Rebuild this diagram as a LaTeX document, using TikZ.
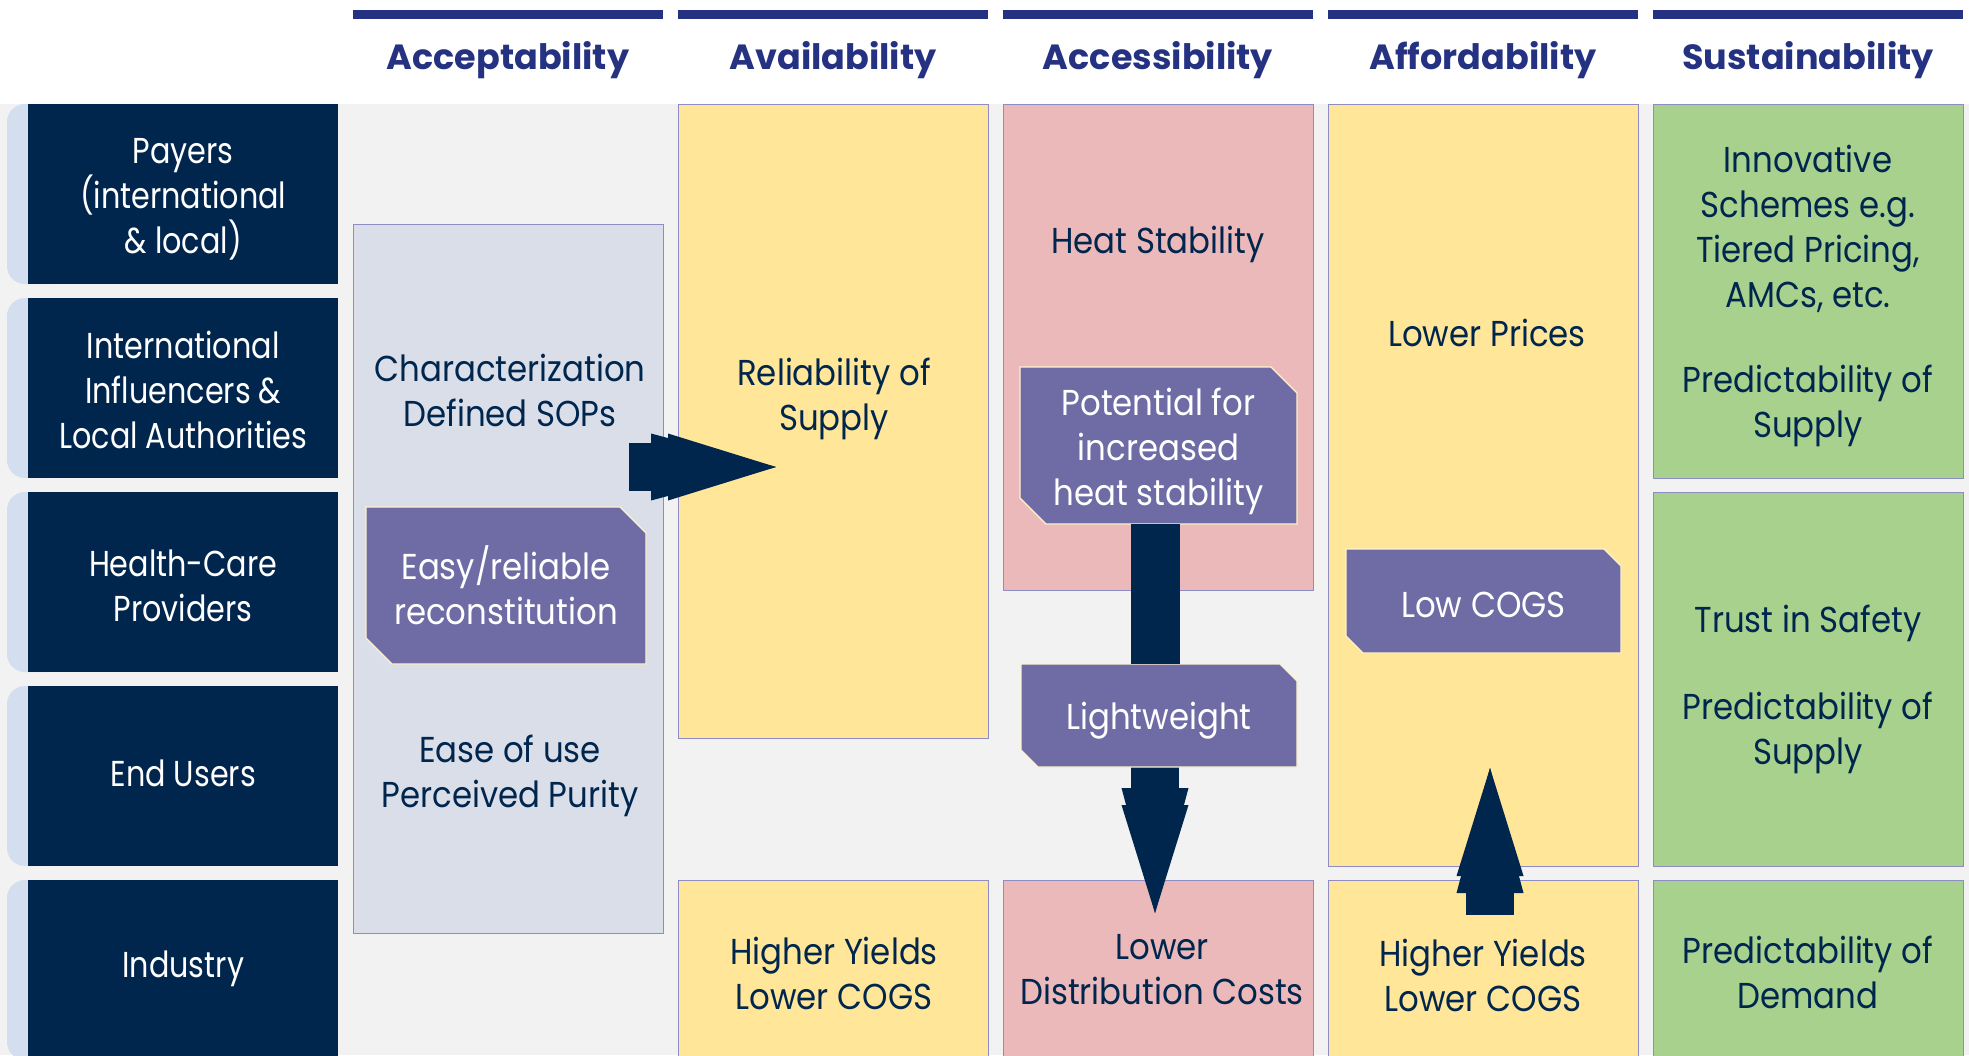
\documentclass[tikz,border=0pt]{standalone}
\usepackage{fontspec}
\setmainfont{Poppins}
\newfontfamily\bodyfont[FakeStretch=0.9]{Poppins}
\newfontfamily\rowfont[FakeStretch=0.84]{Poppins}
\usetikzlibrary{calc}
\definecolor{navy}{HTML}{00264E}
\definecolor{hdr}{HTML}{253282}
\definecolor{bggrey}{HTML}{F2F2F2}
\definecolor{tabc}{HTML}{D3DEEF}
\definecolor{lav}{HTML}{D9DEE9}
\definecolor{edge}{HTML}{8E8CC5}
\definecolor{yel}{HTML}{FFE699}
\definecolor{pnk}{HTML}{ECB9BA}
\definecolor{grn}{HTML}{A9D18E}
\definecolor{purp}{HTML}{6E6BA5}
\definecolor{cream}{HTML}{FFF2CC}
\newcommand\txtfont{\bodyfont\fontsize{36}{45}\selectfont}
\newcommand\rowtxtfont{\rowfont\fontsize{36}{45}\selectfont}
\newcommand\hdrfont{\fontsize{35}{45}\selectfont\bfseries}
\newcommand\cellbox[6]{\node[cell, fill=#2, anchor=north west, minimum width={#5-#3}, minimum height={#6-#4}] (#1) at (#3,#4) {};}
% name, x1, y1, x2, y2, cut, text offset, text
\newcommand\cutbox[8]{%
  \filldraw[fill=purp, draw=cream, line width=1.3pt] (#2,#3) -- ({#4-#6},#3) -- (#4,{#3+#6}) -- (#4,#5) -- ({#2+#6},#5) -- (#2,{#5-#6}) -- cycle;
  \node[inner sep=0pt, minimum width={#4-#2}, minimum height={#5-#3}] (#1) at ({(#2+#4)/2},{(#3+#5)/2}) {};
  \node[wbody] (#1t) at ($(#1.center)+(0,#7)$) {#8};}
\newcommand\bigarrow[3]{%
  \begin{scope}[shift={#1}, rotate=#2]
    \fill[navy] (-#3,-24) rectangle (0.5,24);
    \fill[navy] (0,-33.5) -- (0,33.5) -- (125,0) -- cycle;
    \fill[navy] (17,-33.5) -- (17,33.5) -- (125,0) -- cycle;
  \end{scope}}
\begin{document}
\begin{tikzpicture}[x=1pt,y=-1pt,
  cell/.style={draw=edge, line width=1.3pt, inner sep=0pt},
  body/.style={text=navy, align=center, font=\txtfont, inner sep=0pt},
  wbody/.style={text=white, align=center, font=\txtfont, inner sep=0pt},
  hdrtext/.style={text=hdr, font=\hdrfont, inner sep=0pt, anchor=base},
  rowbox/.style={fill=navy, inner sep=0pt, anchor=north west, minimum width=310, minimum height=180},
  rowtext/.style={text=white, align=center, font=\rowtxtfont, inner sep=0pt}]
\useasboundingbox (0,0) rectangle (1969,1055);
\clip (0,0) rectangle (1969,1055);
\fill[white] (0,0) rectangle (1969,104);
\fill[bggrey] (0,104) rectangle (1969,1055);
% header bars and titles
\foreach \x/\t [count=\i] in {353/Acceptability,678/Availability,1003/Accessibility,1328/Affordability,1653/Sustainability}{
  \fill[hdr] (\x,10) rectangle ({\x+310},19);
  \node[hdrtext] (h\i) at ({\x+155},69) {\t};
}
% row tabs and row headers
\foreach \y in {104,298,492,686,880}{
  \fill[tabc, rounded corners=18] (7,\y) rectangle (70,{\y+180});
}
\node[rowbox] (payers) at (28,104) {};
\node[rowbox] (influencers) at (28,298) {};
\node[rowbox] (providers) at (28,492) {};
\node[rowbox] (endusers) at (28,686) {};
\node[rowbox] (industry) at (28,880) {};
\node[rowtext] (payerst) at ($(payers.center)+(0,5)$) {Payers\\(international\\\& local)};
\node[rowtext] (influencerst) at ($(influencers.center)+(0,2)$) {International\\Influencers \&\\Local Authorities};
\node[rowtext] (providerst) at ($(providers.center)+(0,4)$) {Health-Care\\Providers};
\node[rowtext] (enduserst) at ($(endusers.center)+(0,-3)$) {End Users};
\node[rowtext] (industryt) at ($(industry.center)+(0,-1)$) {Industry};
% column cells
\cellbox{acc}{lav}{353}{224}{663}{933}
\cellbox{av1}{yel}{678}{104}{988}{738}
\cellbox{av2}{yel}{678}{880}{988}{1062}
\cellbox{ac1}{pnk}{1003}{104}{1313}{590}
\cellbox{ac2}{pnk}{1003}{880}{1313}{1062}
\cellbox{af1}{yel}{1328}{104}{1638}{866}
\cellbox{af2}{yel}{1328}{880}{1638}{1062}
\cellbox{su1}{grn}{1653}{104}{1963}{478}
\cellbox{su2}{grn}{1653}{492}{1963}{866}
\cellbox{su3}{grn}{1653}{880}{1963}{1062}
% texts
\node[body] (t1) at (510,390) {Characterization\\Defined SOPs};
\node[body] (t2) at (510,776) {Ease of use\\Perceived Purity};
\node[body] (t3) at (834,399) {Reliability of\\Supply};
\node[body] (t4) at (834,973) {Higher Yields\\Lower COGS};
\node[body] (t5) at (1158,244) {Heat Stability};
\node[body] (t6) at (1162,970) {Lower\\Distribution Costs};
\node[body] (t7) at (1487,333) {Lower Prices};
\node[body] (t8) at (1483,975) {Higher Yields\\Lower COGS};
\node[body] (t9) at (1808,229) {Innovative\\Schemes e.g.\\Tiered Pricing,\\AMCs, etc.};
\node[body] (t10) at (1808,406) {Predictability of\\Supply};
\node[body] (t11) at (1808,623) {Trust in Safety};
\node[body] (t12) at (1808,733) {Predictability of\\Supply};
\node[body] (t13) at (1808,972) {Predictability of\\Demand};
% arrows
\bigarrow{(651,467)}{0}{22}
\bigarrow{(1155,788)}{-90}{21}
\bigarrow{(1490,893)}{90}{22}
% purple boxes
\cutbox{easy}{366}{507}{646}{664}{26}{0}{Easy/reliable\\reconstitution}
\cutbox{pot}{1020}{367}{1297}{524}{26}{6}{Potential for\\increased\\heat stability}
\cutbox{light}{1021}{664}{1297}{767}{17}{5}{Lightweight}
\cutbox{low}{1346}{549}{1621}{653}{17}{4}{Low COGS}
\fill[navy] ($(pot.south)+(-27.5,0)$) rectangle ($(light.north)+(20.5,0)$);
\end{tikzpicture}
\end{document}
